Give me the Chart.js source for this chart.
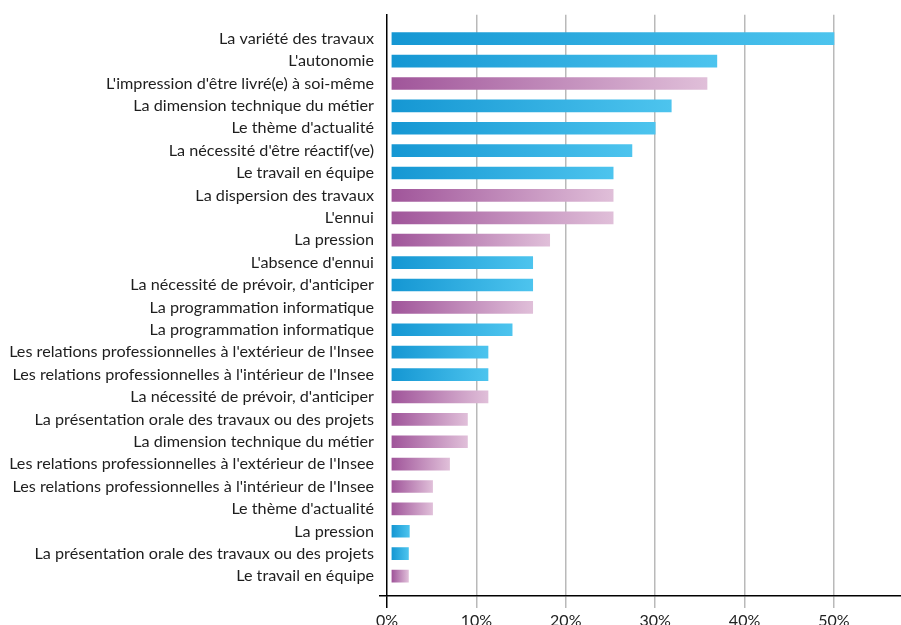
<!DOCTYPE html>
<html><head><meta charset="utf-8">
<script src="https://cdn.jsdelivr.net/npm/chart.js@4/dist/chart.umd.min.js"></script>
<style>html,body{margin:0;padding:0;background:#fff;overflow:hidden}#wrap{width:901px;height:625px}</style>
</head><body><div id="wrap"><canvas id="c" width="901" height="625"></canvas></div>
<script>
const categories = [
  "La variété des travaux",
  "L'autonomie",
  "L'impression d'être livré(e) à soi-même",
  "La dimension technique du métier",
  "Le thème d'actualité",
  "La nécessité d'être réactif(ve)",
  "Le travail en équipe",
  "La dispersion des travaux",
  "L'ennui",
  "La pression",
  "L'absence d'ennui",
  "La nécessité de prévoir, d'anticiper",
  "La programmation informatique",
  "La programmation informatique",
  "Les relations professionnelles à l'extérieur de l'Insee",
  "Les relations professionnelles à l'intérieur de l'Insee",
  "La nécessité de prévoir, d'anticiper",
  "La présentation orale des travaux ou des projets",
  "La dimension technique du métier",
  "Les relations professionnelles à l'extérieur de l'Insee",
  "Les relations professionnelles à l'intérieur de l'Insee",
  "Le thème d'actualité",
  "La pression",
  "La présentation orale des travaux ou des projets",
  "Le travail en équipe"
];
// blue series (one value per category, null where not this series)
const blueValues = [50.0, 36.9, null, 31.8, 30.0, 27.4, 25.3, null, null, null, 16.3, 16.3, null, 14.0, 11.3, 11.3, null, null, null, null, null, null, 2.5, 2.4, null];
// purple series
const purpleValues = [null, null, 35.8, null, null, null, null, 25.3, 25.3, 18.2, null, null, 16.3, null, null, null, 11.3, 9.0, 9.0, 7.0, 5.1, 5.1, null, null, 2.4];
const xTickValues = [0, 10, 20, 30, 40, 50];

const BAR_BASE = 0.55;
const Y_MIN = -1.07, Y_MAX = 24.89;
const FONT = "Lato";

function toPoints(vals) {
  const pts = [];
  vals.forEach((v, i) => { if (v !== null) pts.push({x: v, y: i}); });
  return pts;
}
function grad(from, to) {
  return (ctx) => {
    const chart = ctx.chart;
    if (!chart.chartArea || ctx.type !== 'data' || !chart.scales.x) return from;
    const x0 = chart.scales.x.getPixelForValue(BAR_BASE);
    const x1 = chart.scales.x.getPixelForValue(ctx.raw.x);
    if (!isFinite(x0) || !isFinite(x1) || x1 <= x0) return from;
    const g = chart.ctx.createLinearGradient(x0, 0, x1, 0);
    g.addColorStop(0, from);
    g.addColorStop(1, to);
    return g;
  };
}

new Chart(document.getElementById('c'), {
  type: 'bar',
  data: {
    datasets: [
      {data: toPoints(blueValues), backgroundColor: grad('#1597d3', '#4dc4ee'), base: BAR_BASE, barThickness: 12, grouped: false, borderWidth: 0},
      {data: toPoints(purpleValues), backgroundColor: grad('#a0559a', '#e0bfd9'), base: BAR_BASE, barThickness: 12, grouped: false, borderWidth: 0}
    ]
  },
  options: {
    indexAxis: 'y',
    responsive: false,
    animation: false,
    layout: {padding: {top: 14, right: 0, left: 0, bottom: 0}},
    plugins: {legend: {display: false}, tooltip: {enabled: false}},
    scales: {
      x: {
        type: 'linear', min: 0, max: 57.5, position: 'bottom',
        afterBuildTicks: s => { s.ticks = xTickValues.map(v => ({value: v})); },
        afterFit: s => { s.height = 29; },
        ticks: {callback: v => v + '%', font: {family: FONT, size: 16}, color: '#222', padding: 3, maxRotation: 0, autoSkip: false},
        grid: {
          color: c => (c.tick && c.tick.value === 0) ? 'rgba(0,0,0,0)' : '#b9b9b9',
          tickColor: c => (c.tick && c.tick.value === 0) ? '#000' : '#b9b9b9',
          lineWidth: 1.5, tickLength: 12, drawTicks: true
        },
        border: {color: '#000', width: 1.5}
      },
      y: {
        type: 'linear', reverse: true, min: Y_MIN, max: Y_MAX, position: 'left', offset: false,
        afterBuildTicks: s => { s.ticks = categories.map((_, i) => ({value: i})).concat([{value: Y_MAX}]); },
        afterFit: s => { s.width = 387; },
        ticks: {
          autoSkip: false,
          callback: v => Number.isInteger(v) ? categories[v] : '',
          font: {family: FONT, size: 16.2}, color: '#1e1e1e', padding: 5
        },
        grid: {
          offset: false,
          drawOnChartArea: false, drawTicks: true, tickLength: 8,
          color: c => (c.tick && !Number.isInteger(c.tick.value)) ? '#000' : 'rgba(0,0,0,0)',
          lineWidth: 1.5
        },
        border: {color: '#000', width: 1.5}
      }
    }
  }
});
</script></body></html>
